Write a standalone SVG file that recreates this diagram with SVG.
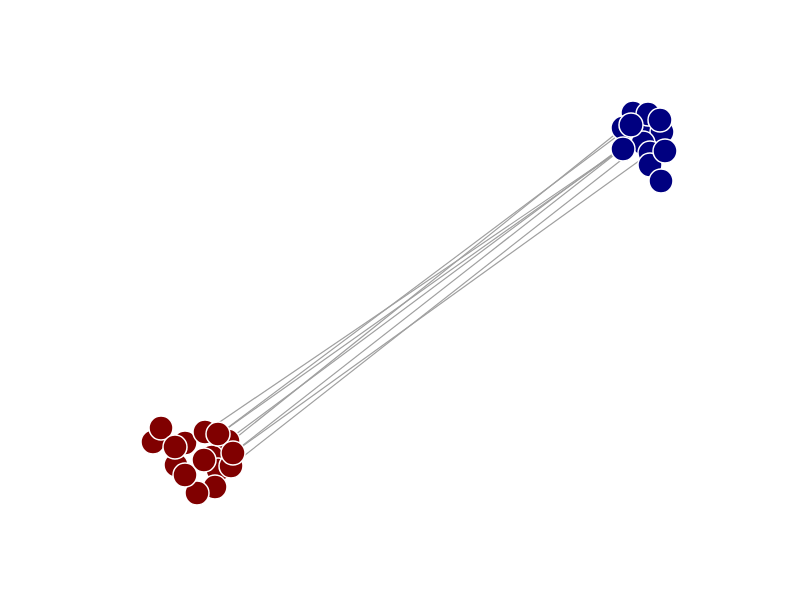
<svg xmlns="http://www.w3.org/2000/svg" width="800" height="600" viewBox="0 0 800 600">
<style>
.e{stroke:#a0a0a0;stroke-width:1.2;fill:none}
.r{fill:#800000;stroke:#fff;stroke-width:1.5}
.b{fill:#000080;stroke:#fff;stroke-width:1.5}
</style>
<rect width="800" height="600" fill="#fff"/>
<g id="edges">
<line class="e" x1="205" y1="432" x2="623" y2="148"/>
<line class="e" x1="218" y1="435" x2="632" y2="125"/>
<line class="e" x1="218" y1="435" x2="623" y2="148"/>
<line class="e" x1="228" y1="440" x2="645" y2="130"/>
<line class="e" x1="233" y1="453" x2="650" y2="153"/>
<line class="e" x1="233" y1="453" x2="623" y2="148"/>
<line class="e" x1="231" y1="466" x2="643" y2="143"/>
<line class="e" x1="212" y1="457" x2="623" y2="128"/>
</g>
<g id="blue">
<circle id="b1" class="b" cx="633" cy="113" r="12"/>
<circle id="b2" class="b" cx="645" cy="130" r="12"/>
<circle id="b3" class="b" cx="662" cy="132" r="12"/>
<circle id="b4" class="b" cx="643" cy="143" r="12"/>
<circle id="b5" class="b" cx="650" cy="153" r="12"/>
<circle id="b6" class="b" cx="648" cy="114" r="12"/>
<circle id="b7" class="b" cx="623" cy="128" r="12"/>
<circle id="b8" class="b" cx="660" cy="120" r="12"/>
<circle id="b9" class="b" cx="631" cy="125" r="12"/>
<circle id="b10" class="b" cx="623" cy="149" r="12"/>
<circle id="b11" class="b" cx="650" cy="165" r="12"/>
<circle id="b12" class="b" cx="665" cy="151" r="12"/>
<circle id="b13" class="b" cx="661" cy="181" r="12"/>
</g>
<g id="red">
<circle id="r1" class="r" cx="153" cy="442" r="12"/>
<circle id="r2" class="r" cx="161" cy="428" r="12"/>
<circle id="r3" class="r" cx="185" cy="443" r="12"/>
<circle id="r4" class="r" cx="228" cy="441" r="12"/>
<circle id="r5" class="r" cx="212" cy="457" r="12"/>
<circle id="r6" class="r" cx="176" cy="465" r="12"/>
<circle id="r7" class="r" cx="218" cy="470" r="12"/>
<circle id="r8" class="r" cx="175" cy="447" r="12"/>
<circle id="r9" class="r" cx="205" cy="432" r="12"/>
<circle id="r10" class="r" cx="231" cy="466" r="12"/>
<circle id="r11" class="r" cx="215" cy="487" r="12"/>
<circle id="r12" class="r" cx="197" cy="493" r="12"/>
<circle id="r13" class="r" cx="185" cy="475" r="12"/>
<circle id="r14" class="r" cx="218" cy="434" r="12"/>
<circle id="r15" class="r" cx="233" cy="453" r="12"/>
<circle id="r16" class="r" cx="204" cy="460" r="12"/>
</g>
</svg>
